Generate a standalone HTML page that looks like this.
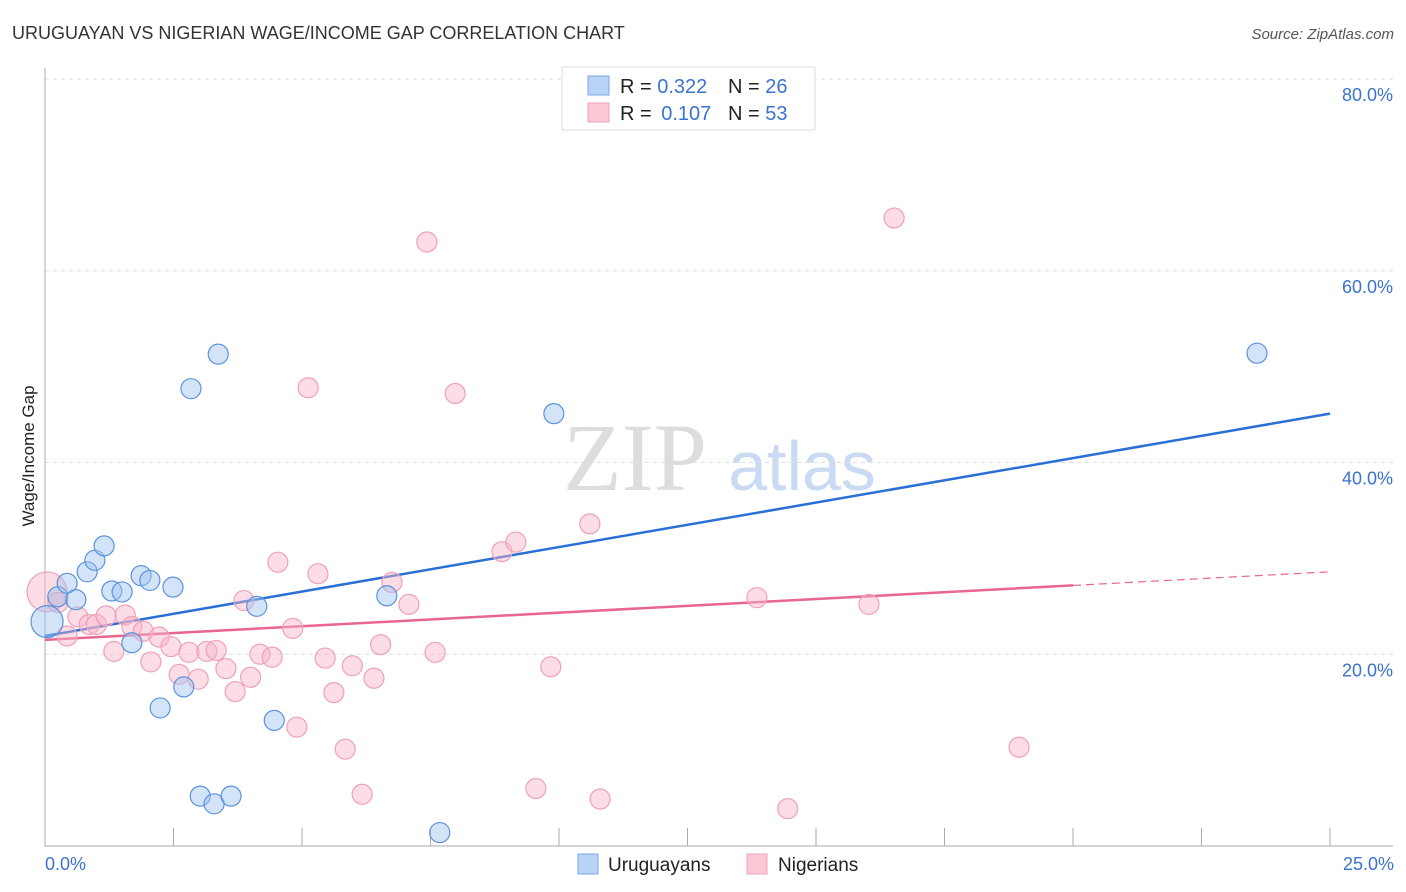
<!DOCTYPE html>
<html><head><meta charset="utf-8"><style>
body{margin:0;background:#fff;font-family:"Liberation Sans",sans-serif;}
svg{display:block}
</style></head><body>
<svg id="chart" width="1406" height="892" xmlns="http://www.w3.org/2000/svg">
<text x="12" y="39" font-size="18" fill="#333">URUGUAYAN VS NIGERIAN WAGE/INCOME GAP CORRELATION CHART</text>
<text x="1394" y="39" font-size="15" fill="#555" font-style="italic" text-anchor="end">Source: ZipAtlas.com</text>
<g>
<text x="635" y="490" font-size="96" fill="#ddd" font-family="Liberation Serif,serif" text-anchor="middle">ZIP</text>
<text x="802" y="490" font-size="70" fill="#c9daf2" text-anchor="middle">atlas</text>
</g>
<g id="grid"></g><g id="axes"></g><g id="lines"></g><g id="pts"></g>
<text transform="translate(34,456) rotate(-90)" font-size="17" fill="#222" text-anchor="middle">Wage/Income Gap</text>
<text x="45" y="870" font-size="18" fill="#3b73d0">0.0%</text>
<text x="1394" y="870" font-size="18" fill="#3b73d0" text-anchor="end">25.0%</text>
<g>
<rect x="562" y="67" width="253" height="63" fill="#fff" stroke="#ddd"/>
<rect x="588" y="76" width="21" height="19" fill="#b8d3f5" stroke="#7aa8e8"/>
<rect x="588" y="103" width="21" height="19" fill="#fbc9d6" stroke="#f0a0b8"/>
<text x="620" y="93" font-size="20" fill="#222">R = <tspan fill="#3b73d0">0.322</tspan><tspan x="728">N = </tspan><tspan fill="#3b73d0">26</tspan></text>
<text x="620" y="120" font-size="20" fill="#222">R = <tspan fill="#3b73d0" dx="4">0.107</tspan><tspan x="728">N = </tspan><tspan fill="#3b73d0">53</tspan></text>
</g>
<g>
<rect x="578" y="854" width="20" height="20" fill="#b8d3f5" stroke="#7aa8e8"/>
<text x="608" y="871" font-size="19" fill="#222">Uruguayans</text>
<text x="778" y="871" font-size="19" fill="#222">Nigerians</text>
<rect x="747" y="854" width="20" height="20" fill="#fbc9d6" stroke="#f0a0b8"/>
</g>
</svg>
<script>
const yTicks=[20,40,60,80];
const yTickLabels=["20.0%","40.0%","60.0%","80.0%"];
const xTicks=[0,2.5,5,7.5,10,12.5,15,17.5,20,22.5,25];
const uruX=[0.04,0.25,0.43,0.6,0.82,0.97,1.15,1.3,1.5,1.69,1.87,2.04,2.24,2.49,2.7,2.84,3.02,3.29,3.37,3.62,4.12,4.46,6.65,7.68,9.9,23.58];
const uruY=[23.4,26.0,27.4,25.7,28.6,29.8,31.3,26.6,26.5,21.2,28.2,27.7,14.4,27.0,16.6,47.7,5.2,4.4,51.3,5.2,25.0,13.1,26.1,1.4,45.1,51.4];
const nigX=[0.04,0.25,0.43,0.64,0.86,1.0,1.19,1.34,1.56,1.69,1.91,2.06,2.22,2.45,2.61,2.8,2.98,3.15,3.33,3.52,3.7,3.87,4.0,4.18,4.42,4.53,4.82,4.9,5.12,5.31,5.45,5.62,5.84,5.98,6.17,6.4,6.53,6.75,7.08,7.43,7.59,7.98,8.89,9.16,9.55,9.84,10.6,10.8,13.85,14.45,16.03,16.52,18.95];
const nigY=[26.5,25.4,21.9,23.9,23.1,23.1,24.0,20.3,24.1,22.9,22.4,19.2,21.8,20.8,17.9,20.2,17.4,20.3,20.4,18.5,16.1,25.6,17.6,20.0,19.7,29.6,22.7,12.4,47.8,28.4,19.6,16.0,10.1,18.8,5.4,17.5,21.0,27.5,25.2,63.0,20.2,47.2,30.7,31.7,6.0,18.7,33.6,4.9,25.9,3.9,25.2,65.5,10.3];
const uruTrend=[21.9,45.1]; // values at x=0 and x=25
const nigTrend=[21.5,28.6];
const nigSolidEnd=20;
const NS="http://www.w3.org/2000/svg";
const sx=v=>45+v/25*1285, sy=v=>846-v/80*767;
function mk(p,t,a){const e=document.createElementNS(NS,t);for(const k in a)e.setAttribute(k,a[k]);document.getElementById(p).appendChild(e);return e;}
yTicks.forEach((t,i)=>{
 const l=mk('grid','line',{x1:45,x2:1393,y1:sy(t),y2:sy(t),stroke:'#ddd','stroke-dasharray':'4,4'});
 
 
 const tx=mk('grid','text',{x:1393,y:sy(t)+22,'font-size':18,fill:'#3b73d0','text-anchor':'end'});
 tx.textContent=yTickLabels[i];
 
 
});
const ax=mk('axes','line',{x1:45,x2:45,y1:68,y2:846,stroke:'#aaa'});


const bx=mk('axes','line',{x1:45,x2:1393,y1:846,y2:846,stroke:'#aaa'});


xTicks.forEach(t=>{
 const l=mk('axes','line',{x1:sx(t),x2:sx(t),y1:828,y2:846,stroke:'#aaa'});
 
 
});
function pts(X,Y,fill,stroke,name){
 X.forEach((x,i)=>{
  const r=(i===0)?(name==='uruguayan-point'?16:20):10;
  const c=mk('pts','circle',{cx:sx(x),cy:sy(Y[i]),r:r,fill:fill,stroke:stroke,'stroke-width':1.2});
  
  
 });
}
pts(nigX,nigY,'rgba(248,180,200,0.45)','#f0a0b8','nigerian-point');
pts(uruX,uruY,'rgba(160,195,240,0.45)','#5a92dd','uruguayan-point');
const ly=(tr,x)=>tr[0]+(tr[1]-tr[0])*x/25;
const b=mk('lines','line',{x1:sx(0),y1:sy(uruTrend[0]),x2:sx(25),y2:sy(uruTrend[1]),stroke:'#2a6fd6','stroke-width':2.5});


const p1=mk('lines','line',{x1:sx(0),y1:sy(nigTrend[0]),x2:sx(nigSolidEnd),y2:sy(ly(nigTrend,nigSolidEnd)),stroke:'#e8668f','stroke-width':2.5});


const p2=mk('lines','line',{x1:sx(nigSolidEnd),y1:sy(ly(nigTrend,nigSolidEnd)),x2:sx(25),y2:sy(nigTrend[1]),stroke:'#e8668f','stroke-width':1.2,'stroke-dasharray':'8,5'});


</script>
</body></html>
